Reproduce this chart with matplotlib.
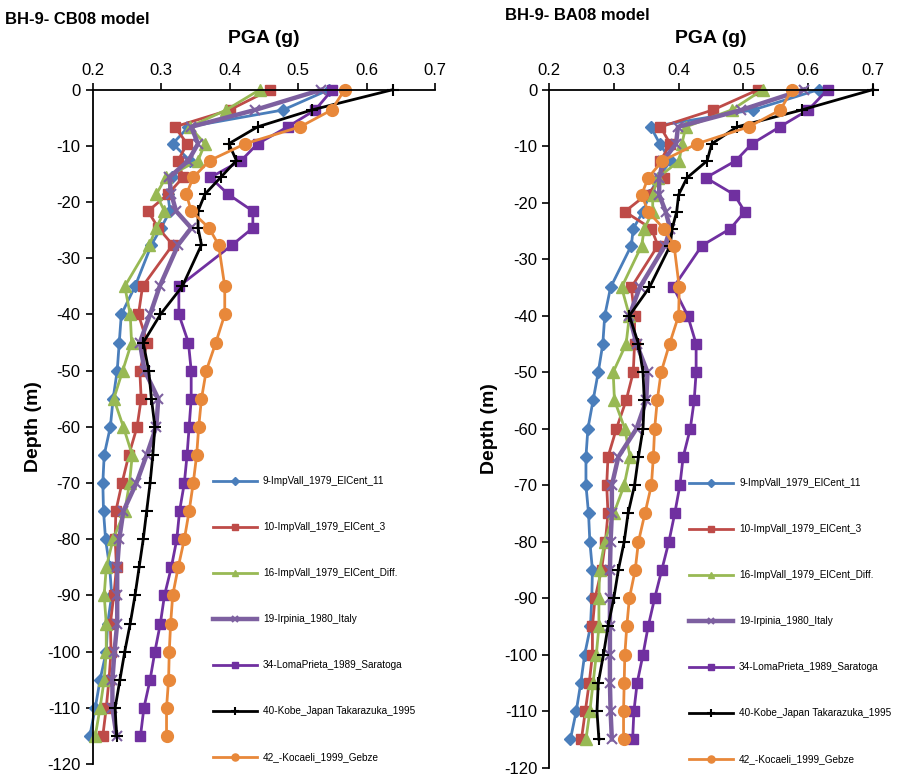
import numpy as np
import matplotlib.pyplot as plt

plt.rcParams['font.family'] = ['Liberation Sans', 'DejaVu Sans']
plt.rcParams['axes.unicode_minus'] = False

depth = [0, -3.6, -6.6, -9.6, -12.6, -15.6, -18.6, -21.6, -24.6, -27.6,
         -35, -40, -45, -50, -55, -60, -65, -70, -75, -80, -85, -90, -95,
         -100, -105, -110, -115]

names = ["9-ImpVall_1979_ElCent_11", "10-ImpVall_1979_ElCent_3",
         "16-ImpVall_1979_ElCent_Diff.", "19-Irpinia_1980_Italy",
         "34-LomaPrieta_1989_Saratoga", "40-Kobe_Japan Takarazuka_1995",
         "42_-Kocaeli_1999_Gebze"]

# CB08 model (left)
cb_impvall11 = [0.545, 0.478, 0.34, 0.317, 0.342, 0.316, 0.31, 0.313, 0.30, 0.286,
                0.262, 0.242, 0.239, 0.236, 0.23, 0.226, 0.217, 0.215, 0.216, 0.219,
                0.225, 0.228, 0.222, 0.22, 0.211, 0.204, 0.196]
cb_impvall3 = [0.459, 0.40, 0.32, 0.338, 0.325, 0.332, 0.31, 0.281, 0.296, 0.317,
               0.273, 0.267, 0.28, 0.269, 0.271, 0.265, 0.253, 0.243, 0.234, 0.233,
               0.235, 0.231, 0.226, 0.227, 0.224, 0.22, 0.215]
cb_impvall_diff = [0.444, 0.395, 0.342, 0.364, 0.354, 0.307, 0.293, 0.305, 0.293, 0.283,
                   0.247, 0.255, 0.257, 0.244, 0.231, 0.245, 0.258, 0.254, 0.247, 0.23,
                   0.22, 0.217, 0.22, 0.22, 0.217, 0.211, 0.204]
cb_irpinia = [0.534, 0.437, 0.344, 0.354, 0.34, 0.312, 0.315, 0.322, 0.344, 0.325,
              0.298, 0.284, 0.269, 0.276, 0.296, 0.293, 0.279, 0.264, 0.245, 0.239,
              0.236, 0.236, 0.236, 0.232, 0.229, 0.229, 0.235]
cb_lomaprieta = [0.55, 0.525, 0.485, 0.441, 0.417, 0.372, 0.398, 0.434, 0.434, 0.404,
                 0.326, 0.326, 0.34, 0.344, 0.344, 0.341, 0.338, 0.334, 0.327, 0.323,
                 0.315, 0.305, 0.299, 0.291, 0.284, 0.275, 0.27]
cb_kobe = [0.638, 0.52, 0.441, 0.399, 0.41, 0.387, 0.364, 0.354, 0.354, 0.359,
           0.331, 0.299, 0.274, 0.282, 0.286, 0.291, 0.288, 0.284, 0.279, 0.274,
           0.268, 0.262, 0.255, 0.247, 0.24, 0.233, 0.235]
cb_kocaeli = [0.568, 0.549, 0.503, 0.423, 0.371, 0.347, 0.337, 0.344, 0.37, 0.384,
              0.393, 0.393, 0.38, 0.366, 0.359, 0.355, 0.352, 0.347, 0.341, 0.334,
              0.325, 0.317, 0.314, 0.312, 0.311, 0.308, 0.308]

# BA08 model (right)
ba_impvall11 = [0.616, 0.515, 0.357, 0.371, 0.388, 0.368, 0.355, 0.345, 0.33, 0.327,
                0.295, 0.286, 0.283, 0.276, 0.268, 0.26, 0.257, 0.257, 0.261, 0.263,
                0.267, 0.266, 0.264, 0.255, 0.249, 0.242, 0.233]
ba_impvall3 = [0.523, 0.453, 0.372, 0.387, 0.372, 0.378, 0.35, 0.317, 0.358, 0.368,
               0.327, 0.332, 0.332, 0.33, 0.319, 0.304, 0.291, 0.289, 0.291, 0.287,
               0.281, 0.271, 0.267, 0.267, 0.262, 0.256, 0.25]
ba_impvall_diff = [0.53, 0.482, 0.411, 0.405, 0.401, 0.368, 0.36, 0.36, 0.347, 0.343,
                   0.312, 0.324, 0.319, 0.299, 0.301, 0.317, 0.325, 0.316, 0.30, 0.286,
                   0.278, 0.277, 0.277, 0.273, 0.268, 0.263, 0.257]
ba_irpinia = [0.593, 0.497, 0.399, 0.396, 0.376, 0.37, 0.37, 0.38, 0.387, 0.379,
              0.34, 0.324, 0.335, 0.352, 0.35, 0.335, 0.307, 0.297, 0.297, 0.295,
              0.294, 0.294, 0.294, 0.294, 0.294, 0.295, 0.297]
ba_lomaprieta = [0.63, 0.60, 0.556, 0.513, 0.488, 0.442, 0.486, 0.502, 0.48, 0.436,
                 0.392, 0.414, 0.427, 0.427, 0.424, 0.418, 0.407, 0.402, 0.394, 0.385,
                 0.374, 0.363, 0.353, 0.345, 0.336, 0.331, 0.329]
ba_kobe = [0.70, 0.59, 0.49, 0.451, 0.444, 0.413, 0.40, 0.397, 0.39, 0.387,
           0.355, 0.324, 0.338, 0.345, 0.347, 0.345, 0.338, 0.332, 0.322, 0.316,
           0.307, 0.30, 0.291, 0.284, 0.276, 0.274, 0.277]
ba_kocaeli = [0.575, 0.557, 0.508, 0.428, 0.375, 0.353, 0.343, 0.353, 0.377, 0.393,
              0.401, 0.40, 0.386, 0.373, 0.367, 0.363, 0.361, 0.358, 0.348, 0.338,
              0.333, 0.324, 0.32, 0.317, 0.316, 0.315, 0.315]

styles = [
    dict(color="#4A7EBB", marker="D", lw=2.0, ms=6.5),
    dict(color="#BE4B48", marker="s", lw=2.0, ms=7.5),
    dict(color="#98B954", marker="^", lw=2.0, ms=8),
    dict(color="#7D60A0", marker="x", lw=3.2, ms=7, mew=1.5),
    dict(color="#7030A0", marker="s", lw=2.0, ms=7.5),
    dict(color="black", marker="+", lw=2.0, ms=9, mew=1.5),
    dict(color="#E8883A", marker="o", lw=2.0, ms=8.5),
]

fig = plt.figure(figsize=(9.19, 7.75), dpi=100)
ax1 = fig.add_axes([0.1007, 0.0142, 0.3727, 0.870])
ax2 = fig.add_axes([0.5974, 0.0094, 0.3526, 0.875])

panels = [
    (ax1, [cb_impvall11, cb_impvall3, cb_impvall_diff, cb_irpinia, cb_lomaprieta, cb_kobe, cb_kocaeli],
     0.34),
    (ax2, [ba_impvall11, ba_impvall3, ba_impvall_diff, ba_irpinia, ba_lomaprieta, ba_kobe, ba_kocaeli],
     0.42),
]

for ax, series, legx in panels:
    for vals, name, st in zip(series, names, styles):
        ax.plot(vals, depth, label=name, clip_on=False, **st)
    ax.set_xlim(0.2, 0.7)
    ax.set_ylim(-120, 0)
    ax.set_xticks([0.2, 0.3, 0.4, 0.5, 0.6, 0.7])
    ax.set_xticklabels(["0.2", "0.3", "0.4", "0.5", "0.6", "0.7"])
    ax.set_yticks(range(-120, 1, 10))
    ax.xaxis.tick_top()
    ax.xaxis.set_label_position("top")
    ax.spines["right"].set_visible(False)
    ax.spines["bottom"].set_visible(False)
    ax.spines["top"].set_linewidth(1.3)
    ax.spines["left"].set_linewidth(1.3)
    ax.tick_params(axis="both", direction="out", length=5, width=1.2, labelsize=12)
    ax.set_xlabel("PGA (g)", fontsize=14, fontweight="bold", labelpad=14)
    ax.set_ylabel("Depth (m)", fontsize=14, fontweight="bold", labelpad=4)
    ax.legend(loc="upper left", bbox_to_anchor=(legx, 0.433), frameon=False,
              fontsize=7.2, labelspacing=3.6, handlelength=4.4, markerscale=0.6,
              borderaxespad=0, handletextpad=0.6)

fig.text(0.005, 0.985, "BH-9- CB08 model", fontsize=12, fontweight="bold", va="top")
fig.text(0.55, 0.99, "BH-9- BA08 model", fontsize=12, fontweight="bold", va="top")

fig.savefig("out.png", dpi=100)
